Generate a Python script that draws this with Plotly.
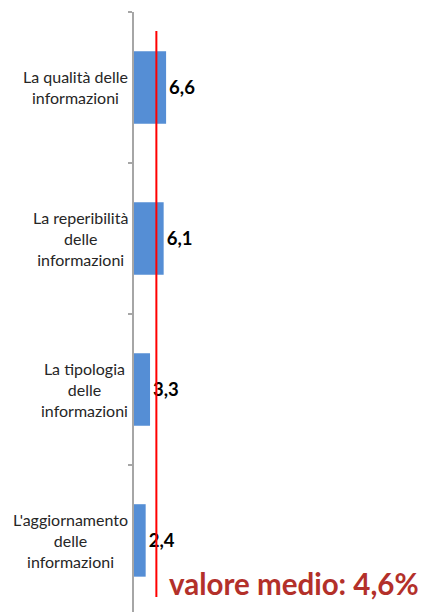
import plotly.graph_objects as go

# data
categories = [
    "La qualità delle<br>informazioni",
    "La reperibilità<br>delle<br>informazioni",
    "La tipologia<br>delle<br>informazioni",
    "L'aggiornamento<br>delle<br>informazioni",
]
values = [6.6, 6.1, 3.3, 2.4]
mean_value = 4.6
mean_label = "valore medio: 4,6%"

ids = ["c%d" % i for i in range(len(categories))]
labels = [f"{v:.1f}".replace(".", ",") for v in values]

fig = go.Figure()
fig.add_trace(go.Bar(
    x=values, y=ids, orientation="h",
    marker=dict(color="#558ED5", line=dict(width=0)),
    text=labels, textposition="outside",
    textfont=dict(family="Lato", size=18.5, color="#000000", weight="bold"),
    cliponaxis=False, showlegend=False, hoverinfo="x+y",
))

# category labels: lines centered, block right-aligned next to the axis
for cid, cat in zip(ids, categories):
    fig.add_annotation(
        x=0, xref="paper", xshift=-4, xanchor="right",
        y=cid, yref="y", yanchor="middle",
        text=cat, align="center", showarrow=False,
        font=dict(family="Lato", size=16, color="#262626"),
    )

# mean line
fig.add_shape(type="line", xref="x", yref="y",
              x0=mean_value, x1=mean_value, y0=-0.374, y1=3.374,
              line=dict(color="#FF0000", width=2))

fig.add_annotation(
    x=0.116, xref="paper", xanchor="left",
    y=0.048, yref="paper", yanchor="middle",
    text="<b>" + mean_label + "</b>", showarrow=False,
    font=dict(family="Lato", size=29.5, color="#B3302A"),
)

fig.update_layout(
    width=426, height=612,
    margin=dict(l=134, r=10, t=12, b=0),
    paper_bgcolor="white", plot_bgcolor="white",
    bargap=0.52,
    font=dict(family="Lato"),
    xaxis=dict(range=[0, 58], visible=False, showgrid=False, zeroline=False),
    yaxis=dict(
        type="category", categoryorder="array", categoryarray=ids,
        range=[3.474, -0.5], automargin=False,
        showticklabels=False, showgrid=False, zeroline=False,
        showline=True, linecolor="#A6A6A6", linewidth=1.5,
        ticks="outside", tickson="boundaries", ticklen=4,
        tickcolor="#A6A6A6", tickwidth=1.5,
    ),
)

fig.write_html("out.html", config={"displayModeBar": False},
               post_script="document.body.style.margin='0';")
